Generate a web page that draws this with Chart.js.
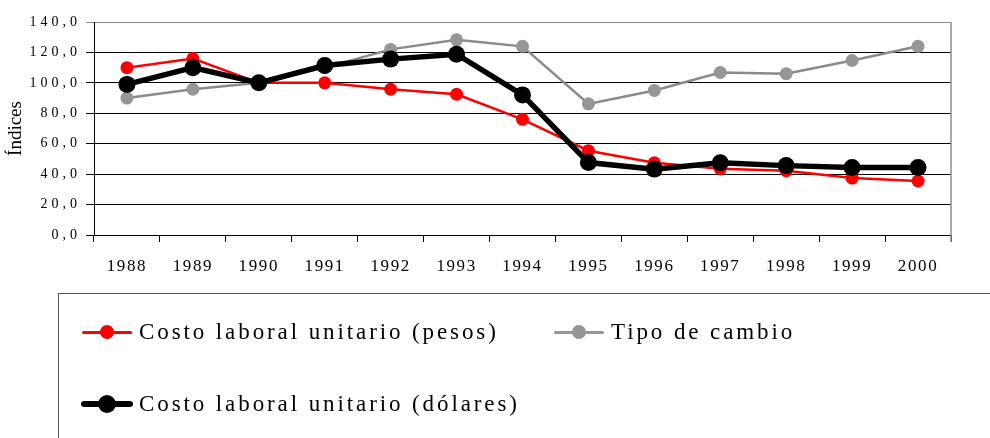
<!DOCTYPE html>
<html lang="es">
<head>
<meta charset="utf-8">
<title>Costo laboral unitario y tipo de cambio</title>
<script src="https://cdn.jsdelivr.net/npm/chart.js@4.4.1/dist/chart.umd.min.js"></script>
<style>
    body { margin: 0; background: #fff; }
    .wrap { position: relative; width: 990px; height: 438px; overflow: hidden; }
    #chart { position: absolute; left: 0; top: 0; }
    .legend {
        position: absolute; left: 58px; top: 293px; width: 960px; height: 200px;
        border: 1.5px solid #555; box-sizing: border-box;
        font-family: "Liberation Serif", "DejaVu Serif", serif; font-size: 23px;
        letter-spacing: 2.9px; color: #000;
    }
    .item { position: absolute; white-space: nowrap; line-height: 24px; }
    .swatch { position: absolute; top: 12px; border-radius: 3px; }
    .dot { position: absolute; border-radius: 50%; }
</style>
</head>
<body>
<div class="wrap">
    <canvas id="chart" width="990" height="438"></canvas>
    <div class="legend" id="legend"></div>
</div>
<script>
(function () {
    "use strict";

    // Data
    var years = ["1988", "1989", "1990", "1991", "1992", "1993", "1994",
                 "1995", "1996", "1997", "1998", "1999", "2000"];
    var costoPesos   = [110, 116, 100, 100, 95.8, 92.5, 76, 55.4, 47.5, 43.5, 42.3, 37.4, 35.5];
    var tipoCambio   = [90, 95.8, 100, 110, 122, 128.3, 124, 86.2, 95, 106.8, 106, 114.7, 124];
    var costoDolares = [99, 110, 100, 111.4, 115.6, 118.8, 92.1, 47.6, 43.3, 47.5, 45.6, 44.3, 44.3];
    var seriesNames  = ["Costo laboral unitario (pesos)", "Tipo de cambio", "Costo laboral unitario (dólares)"];
    var yTitle = "Índices";

    var serif = "'Liberation Serif', 'DejaVu Serif', serif";

    // Letter spacing for the tick labels (Chart.js has no option for it)
    var tickSpacing = { x: "1.6px", y: "4px" };
    var spacingPlugin = {
        id: "spacing",
        beforeDraw: function (chart) {
            Object.keys(tickSpacing).forEach(function (id) {
                var s = chart.scales[id];
                if (!s || s._spaced) return;
                var orig = s.drawLabels;
                s.drawLabels = function (area) {
                    var ctx = this.ctx;
                    ctx.save();
                    ctx.letterSpacing = tickSpacing[id];
                    orig.call(this, area);
                    ctx.restore();
                };
                s._spaced = true;
            });
        }
    };

    // Grey frame line on the right side of the plot
    var framePlugin = {
        id: "frame",
        afterDraw: function (chart) {
            var a = chart.chartArea, ctx = chart.ctx;
            ctx.save();
            ctx.strokeStyle = "#8c8c8c";
            ctx.lineWidth = 1.5;
            ctx.beginPath();
            ctx.moveTo(a.right, a.top);
            ctx.lineTo(a.right, a.bottom + 7);
            ctx.stroke();
            ctx.restore();
        }
    };

    var ctx = document.getElementById("chart").getContext("2d");
    var myChart = new Chart(ctx, {
        type: "line",
        data: {
            labels: years,
            datasets: [
                {
                    label: seriesNames[0],
                    data: costoPesos,
                    borderColor: "#ff0000",
                    backgroundColor: "#ff0000",
                    borderWidth: 2.5,
                    pointRadius: 6.5,
                    pointBorderWidth: 0,
                    order: 1
                },
                {
                    label: seriesNames[1],
                    data: tipoCambio,
                    borderColor: "#8a8a8a",
                    backgroundColor: "#969696",
                    borderWidth: 2.5,
                    pointRadius: 6.5,
                    pointBorderWidth: 0,
                    order: 2
                },
                {
                    label: seriesNames[2],
                    data: costoDolares,
                    borderColor: "#000000",
                    backgroundColor: "#000000",
                    borderWidth: 5.5,
                    pointRadius: 8.5,
                    pointBorderWidth: 0,
                    order: 0
                }
            ]
        },
        options: {
            responsive: false,
            animation: false,
            layout: { padding: { left: 0, top: 22, right: 39, bottom: 158 } },
            plugins: {
                legend: { display: false },
                tooltip: { enabled: false }
            },
            scales: {
                x: {
                    offset: true,
                    afterFit: function (scale) { scale.height = 45; },
                    grid: {
                        offset: true,
                        drawOnChartArea: false,
                        drawTicks: true,
                        tickLength: 7,
                        color: "#000"
                    },
                    border: { color: "#000", width: 1 },
                    ticks: {
                        color: "#000",
                        padding: 14,
                        maxRotation: 0,
                        font: { family: serif, size: 17 }
                    }
                },
                y: {
                    min: 0,
                    max: 140,
                    afterFit: function (scale) { scale.width = 94; },
                    grid: {
                        color: function (c) { return c.tick && c.tick.value === 140 ? "#8c8c8c" : "#000"; },
                        lineWidth: 1,
                        drawTicks: true,
                        tickLength: 8
                    },
                    border: { color: "#000", width: 1 },
                    ticks: {
                        stepSize: 20,
                        color: "#000",
                        padding: 5,
                        font: { family: serif, size: 14 },
                        callback: function (v) { return v.toFixed(1).replace(".", ","); }
                    },
                    title: {
                        display: true,
                        text: yTitle,
                        color: "#000",
                        padding: { top: 5, bottom: 0 },
                        font: { family: serif, size: 19 }
                    }
                }
            }
        },
        plugins: [spacingPlugin, framePlugin]
    });

    // Legend box (drawn in HTML, positions relative to the box)
    var legendItems = [
        { name: seriesNames[0], color: "#ff0000", line: 3, dot: 14, x: 23, y: 26, len: 50, text: 80 },
        { name: seriesNames[1], color: "#969696", line: 3, dot: 14, x: 495, y: 26, len: 50, text: 552 },
        { name: seriesNames[2], color: "#000000", line: 6, dot: 18, x: 22, y: 98, len: 52, text: 80 }
    ];
    var legend = document.getElementById("legend");
    legendItems.forEach(function (it) {
        var sw = document.createElement("div");
        sw.className = "swatch";
        sw.style.left = it.x + "px";
        sw.style.top = (it.y + 12 - it.line / 2) + "px";
        sw.style.width = it.len + "px";
        sw.style.height = it.line + "px";
        sw.style.background = it.color;
        legend.appendChild(sw);

        var dot = document.createElement("div");
        dot.className = "dot";
        dot.style.left = (it.x + it.len / 2 - it.dot / 2) + "px";
        dot.style.top = (it.y + 12 - it.dot / 2) + "px";
        dot.style.width = it.dot + "px";
        dot.style.height = it.dot + "px";
        dot.style.background = it.color;
        legend.appendChild(dot);

        var label = document.createElement("div");
        label.className = "item";
        label.style.left = it.text + "px";
        label.style.top = it.y + "px";
        label.textContent = it.name;
        legend.appendChild(label);
    });

})();
</script>
</body>
</html>
